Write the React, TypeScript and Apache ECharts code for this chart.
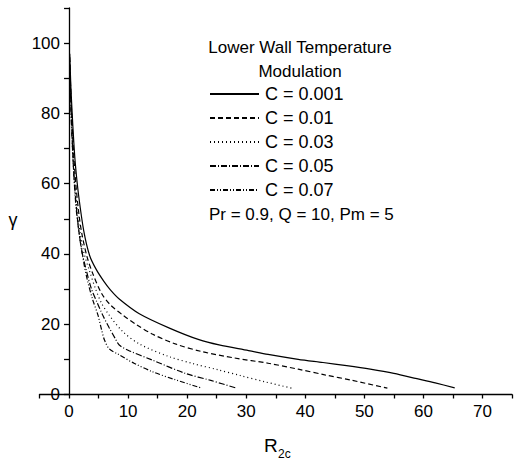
import { useEffect, useRef } from "react";
import * as echarts from "echarts";

const seriesNames = ["C = 0.001", "C = 0.01", "C = 0.03", "C = 0.05", "C = 0.07"];

const curveC0001 = [
  [0.12, 97], [0.3, 88], [0.5, 81], [0.8, 72], [1.1, 65], [1.6, 57], [2.5, 46.5],
  [3.5, 39.5], [4.6, 35.6], [5.9, 32.2], [7, 29.8], [8.5, 27.2], [11.9, 23], [17, 18.9],
  [22, 15.6], [25.4, 14.1], [30.4, 12.5], [33.7, 11.4], [38.8, 10], [43, 9.1], [47, 8.2],
  [51, 7.2], [55, 6], [58.9, 4.5], [62, 3.3], [65.3, 1.9],
];
const curveC001 = [
  [0.12, 96], [0.3, 86], [0.5, 78], [0.8, 68], [1.2, 59], [1.7, 51], [2.2, 45.5],
  [3, 39.5], [4, 34.5], [5.5, 28.8], [7, 25.5], [9.1, 22.6], [11.5, 19.8], [14.1, 17.2],
  [18, 14.4], [22.5, 12.2], [28, 10.4], [33.7, 8.9], [38.8, 7.2], [43.3, 5.6],
  [48, 4], [53.9, 1.8],
];
const curveC003 = [
  [0.12, 95], [0.3, 85], [0.5, 76], [0.8, 65], [1.2, 56], [1.7, 48], [2.5, 40.5],
  [3.5, 35], [4.5, 30], [5.5, 26], [6.8, 22.6], [9.1, 17.9], [12, 14.3],
  [16.9, 10.8], [21, 8.8], [25.3, 7], [29, 5.4], [33.2, 3.6], [37.7, 1.8],
];
const curveC005 = [
  [0.12, 94], [0.3, 84], [0.5, 74], [0.8, 63], [1.2, 54], [1.7, 46], [2.2, 40.5],
  [2.9, 35.5], [3.8, 30], [4.8, 26], [5.7, 22.6], [6.8, 19], [7.8, 16], [8.5, 14.1],
  [10, 12.6], [14.1, 9.8], [19.7, 6], [24, 4], [28.4, 1.8],
];
const curveC007 = [
  [0.12, 93], [0.25, 85], [0.4, 77], [0.8, 63], [1.2, 53], [1.7, 46], [2.5, 37.5],
  [3.1, 32.6], [4, 27], [4.9, 22.6], [5.5, 18.5], [6, 15.5], [6.8, 13], [8.5, 11.3],
  [11, 8.9], [14.1, 6.5], [18, 4.2], [22.5, 1.8],
];

const curves = [curveC0001, curveC001, curveC003, curveC005, curveC007];
const dashStyles: any[] = ["solid", [5, 3], [1, 3], [6, 2, 1, 2], [5, 2, 1, 2, 1, 2]];

const FONT = "Liberation Sans, Arial, sans-serif";

export default function App() {
  const ref = useRef<HTMLDivElement>(null);
  useEffect(() => {
    if (!ref.current) return;
    const chart = echarts.init(ref.current, undefined, { renderer: "svg" });
    chart.setOption({
      animation: false,
      backgroundColor: "#ffffff",
      textStyle: { fontFamily: FONT },
      grid: { left: 39.5, right: 0, top: 8, bottom: 68.5, containLabel: false },
      xAxis: {
        type: "value",
        min: -5,
        max: 75,
        interval: 5,
        axisLine: { show: true, onZero: true, lineStyle: { color: "#000", width: 1.3 } },
        axisTick: { show: true, inside: false, length: 4, lineStyle: { color: "#000", width: 1.3 } },
        axisLabel: {
          color: "#000",
          fontSize: 17,
          fontFamily: FONT,
          margin: 8,
          formatter: (v: number) => (v >= 0 && v % 10 === 0 ? String(v) : ""),
        },
        splitLine: { show: false },
      },
      yAxis: {
        type: "value",
        min: 0,
        max: 110,
        interval: 10,
        axisLine: { show: true, onZero: true, lineStyle: { color: "#000", width: 1.3 } },
        axisTick: { show: true, inside: false, length: 5, lineStyle: { color: "#000", width: 1.3 } },
        axisLabel: {
          color: "#000",
          fontSize: 17,
          fontFamily: FONT,
          margin: -20.5,
          formatter: (v: number) => (v % 20 === 0 && v <= 100 ? String(v) : ""),
        },
        splitLine: { show: false },
      },
      legend: {
        show: true,
        orient: "vertical",
        left: 209,
        top: 85,
        padding: 0,
        itemWidth: 49,
        itemHeight: 18,
        itemGap: 6,
        itemStyle: { opacity: 0 },
        textStyle: { color: "#000", fontSize: 18, fontFamily: FONT, padding: [0, 0, 0, 1] },
        data: seriesNames,
      },
      graphic: [
        {
          type: "text",
          x: 300,
          y: 47,
          style: {
            text: "Lower Wall Temperature",
            fill: "#000",
            font: `17px ${FONT}`,
            textAlign: "center",
            textVerticalAlign: "middle",
          },
        },
        {
          type: "text",
          x: 300,
          y: 71,
          style: {
            text: "Modulation",
            fill: "#000",
            font: `17px ${FONT}`,
            textAlign: "center",
            textVerticalAlign: "middle",
          },
        },
        {
          type: "text",
          x: 209,
          y: 214,
          style: {
            text: "Pr = 0.9, Q = 10, Pm = 5",
            fill: "#000",
            font: `17px ${FONT}`,
            textAlign: "left",
            textVerticalAlign: "middle",
          },
        },
        {
          type: "text",
          x: 13,
          y: 220,
          style: {
            text: "γ",
            fill: "#000",
            font: `18px ${FONT}`,
            textAlign: "center",
            textVerticalAlign: "middle",
          },
        },
        {
          type: "text",
          x: 264,
          y: 445,
          style: {
            text: "R",
            fill: "#000",
            font: `19px ${FONT}`,
            textAlign: "left",
            textVerticalAlign: "middle",
          },
        },
        {
          type: "text",
          x: 278,
          y: 454,
          style: {
            text: "2c",
            fill: "#000",
            font: `12px ${FONT}`,
            textAlign: "left",
            textVerticalAlign: "middle",
          },
        },
      ],
      series: seriesNames.map((name, i) => ({
        name,
        type: "line",
        data: curves[i],
        symbol: "none",
        smooth: 0.3,
        lineStyle: { color: "#000", width: 1.2, type: dashStyles[i] },
        itemStyle: { color: "#000" },
      })),
    });
    return () => chart.dispose();
  }, []);
  return (
    <div
      ref={ref}
      style={{ position: "fixed", left: 0, top: 0, width: 515, height: 463, background: "#fff" }}
    />
  );
}
